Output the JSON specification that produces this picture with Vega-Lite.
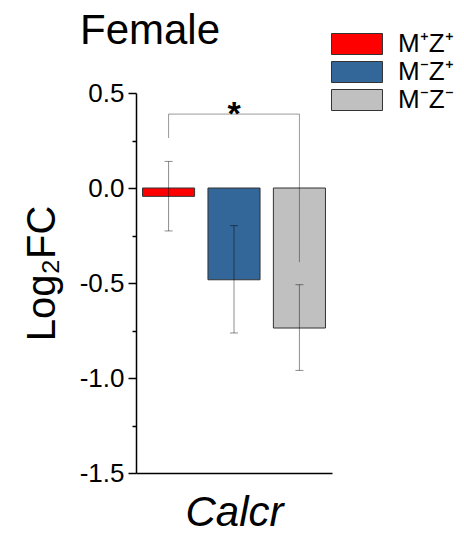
{
  "$schema": "https://vega.github.io/schema/vega-lite/v6.json",
  "autosize": {"type": "none"},
  "padding": {"left": 136, "top": 93, "right": 132, "bottom": 62},
  "width": 196,
  "height": 380,
  "title": {
    "text": "Female",
    "anchor": "start",
    "frame": "group",
    "font": "Liberation Sans",
    "fontSize": 42,
    "fontWeight": "normal",
    "color": "#000000",
    "baseline": "alphabetic",
    "dx": -56,
    "offset": 0,
    "dy": 55
  },
  "datasets": {
    "bars": [
      {"group": "M⁺Z⁺", "mean": -0.044, "lo": -0.226, "hi": 0.14},
      {"group": "M⁻Z⁺", "mean": -0.483, "lo": -0.763, "hi": -0.198},
      {"group": "M⁻Z⁻", "mean": -0.737, "lo": -0.96, "hi": -0.509}
    ],
    "bracket": [
      {"group": "M⁺Z⁺", "y": 0.263, "step": 1},
      {"group": "M⁺Z⁺", "y": 0.389, "step": 2},
      {"group": "M⁻Z⁻", "y": 0.389, "step": 3},
      {"group": "M⁻Z⁻", "y": -0.39, "step": 4}
    ],
    "stars": [
      {"group": "M⁻Z⁺", "y": 0.33, "label": "*"}
    ]
  },
  "config": {
    "view": {"stroke": null},
    "font": "Liberation Sans"
  },
  "layer": [
    {
      "data": {"name": "bars"},
      "mark": {"type": "bar", "stroke": "#333333", "strokeWidth": 1},
      "encoding": {
        "x": {
          "field": "group",
          "type": "nominal",
          "sort": null,
          "scale": {"domain": ["M⁺Z⁺", "M⁻Z⁺", "M⁻Z⁻"], "paddingInner": 0.204, "paddingOuter": 0.1},
          "axis": {
            "title": "Calcr",
            "titleFont": "Liberation Sans",
            "titleFontSize": 42,
            "titleFontStyle": "italic",
            "titleFontWeight": "normal",
            "titleColor": "#000000",
            "titlePadding": 19,
            "labels": false,
            "ticks": false,
            "domainColor": "#000000",
            "domainWidth": 1.5
          }
        },
        "y": {
          "field": "mean",
          "type": "quantitative",
          "scale": {"domain": [-1.5, 0.5], "nice": false, "zero": false},
          "axis": {
            "title": "Log₂FC",
            "titleFont": "Liberation Sans",
            "titleFontSize": 40,
            "titleFontWeight": "normal",
            "titleColor": "#000000",
            "titlePadding": 17,
            "titleY": 180,
            "values": [-1.5, -1.25, -1, -0.75, -0.5, -0.25, 0, 0.25, 0.5],
            "labelExpr": "abs(datum.value * 2 - round(datum.value * 2)) < 0.001 ? replace(format(datum.value, '.1f'), '−', '-') : ''",
            "labelFont": "Liberation Sans",
            "labelFontSize": 26,
            "labelColor": "#000000",
            "labelPadding": 4,
            "tickSize": {"condition": {"test": "abs(datum.value * 2 - round(datum.value * 2)) < 0.001", "value": 8}, "value": 4},
            "tickColor": "#000000",
            "tickWidth": 1.5,
            "domainColor": "#000000",
            "domainWidth": 1.5,
            "grid": false
          }
        },
        "color": {
          "field": "group",
          "type": "nominal",
          "sort": null,
          "scale": {"domain": ["M⁺Z⁺", "M⁻Z⁺", "M⁻Z⁻"], "range": ["#ff0000", "#336699", "#c0c0c0"]},
          "legend": {
            "title": null,
            "orient": "none",
            "legendX": 193,
            "legendY": -62,
            "padding": 0,
            "symbolType": "M-1,-1H3.857V1H-1Z",
            "symbolSize": 441,
            "symbolStrokeColor": "#333333",
            "symbolStrokeWidth": 1,
            "symbolOpacity": 1,
            "labelFont": "Liberation Sans",
            "labelFontSize": 26,
            "labelColor": "#000000",
            "labelOffset": 43,
            "rowPadding": 2
          }
        }
      }
    },
    {
      "mark": {"type": "rule", "color": "#000000", "strokeWidth": 1.5},
      "encoding": {"y": {"datum": 0}}
    },
    {
      "data": {"name": "bars"},
      "mark": {"type": "rule", "color": "#000000", "opacity": 0.45, "strokeWidth": 1},
      "encoding": {
        "x": {"field": "group", "type": "nominal", "sort": null},
        "y": {"field": "lo", "type": "quantitative"},
        "y2": {"field": "hi"}
      }
    },
    {
      "data": {"name": "bars"},
      "mark": {"type": "tick", "color": "#000000", "opacity": 0.45, "size": 8, "thickness": 1},
      "encoding": {
        "x": {"field": "group", "type": "nominal", "sort": null},
        "y": {"field": "lo", "type": "quantitative"}
      }
    },
    {
      "data": {"name": "bars"},
      "mark": {"type": "tick", "color": "#000000", "opacity": 0.45, "size": 8, "thickness": 1},
      "encoding": {
        "x": {"field": "group", "type": "nominal", "sort": null},
        "y": {"field": "hi", "type": "quantitative"}
      }
    },
    {
      "data": {"name": "bracket"},
      "mark": {"type": "line", "color": "#000000", "opacity": 0.4, "strokeWidth": 1},
      "encoding": {
        "x": {"field": "group", "type": "nominal", "sort": null},
        "y": {"field": "y", "type": "quantitative"},
        "order": {"field": "step", "type": "quantitative"}
      }
    },
    {
      "data": {"name": "stars"},
      "mark": {"type": "text", "font": "Liberation Sans", "fontSize": 34, "fontWeight": "bold", "color": "#000000", "baseline": "alphabetic"},
      "encoding": {
        "x": {"field": "group", "type": "nominal", "sort": null},
        "y": {"field": "y", "type": "quantitative"},
        "text": {"field": "label"}
      }
    }
  ]
}
